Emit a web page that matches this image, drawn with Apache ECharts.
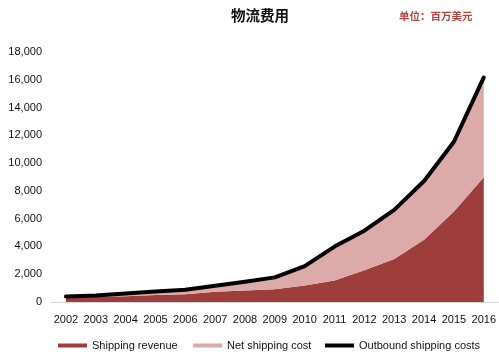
<!DOCTYPE html>
<html><head><meta charset="utf-8">
<script src="https://cdn.jsdelivr.net/npm/echarts@6/dist/echarts.min.js"></script>
<style>html,body{margin:0;padding:0;background:#fff}#c{width:499px;height:363px}</style>
</head><body><div id="c"></div>
<script>
var years = ['2002','2003','2004','2005','2006','2007','2008','2009','2010','2011','2012','2013','2014','2015','2016'];
var shippingRevenue = [364, 372, 420, 511, 567, 740, 835, 924, 1193, 1552, 2280, 3097, 4486, 6515, 8976];
var outboundShipping = [404, 472, 617, 750, 884, 1174, 1465, 1773, 2579, 3989, 5134, 6635, 8709, 11539, 16167];
var netShippingCost = outboundShipping.map(function(v, i){ return v - shippingRevenue[i]; });
var yTicks = [0, 2000, 4000, 6000, 8000, 10000, 12000, 14000, 16000, 18000];

var chart = echarts.init(document.getElementById('c'), null, {renderer:'canvas'});
var font = 'Liberation Sans, Arial, sans-serif';
function leg(name, left, color){
  return {bottom: 7, left: left, itemWidth: 29, itemHeight: 4, itemGap: 0,
    textStyle: {fontSize: 11, color: '#111', fontFamily: font},
    data: [{name: name, icon: 'rect', itemStyle: {color: color}}]};
}
chart.setOption({
  animation: false,
  title: [
    {text: '物流费用', left: 226, top: 3,
     textStyle: {fontSize: 14.5, fontWeight: 'bold', color: '#111', fontFamily: 'Noto Sans CJK SC'}},
    {text: '单位：百万美元', left: 394, top: 6,
     textStyle: {fontSize: 10.5, fontWeight: 'bold', color: '#b8433f', fontFamily: 'Noto Sans CJK SC'}}
  ],
  grid: {left: 51, right: 0, top: 52, bottom: 61},
  legend: [
    leg('Shipping revenue', 53, '#9d3d3c'),
    leg('Net shipping cost', 188, '#dcaaa9'),
    leg('Outbound shipping costs', 320, '#000')
  ],
  xAxis: {
    type: 'category', data: years, boundaryGap: true,
    axisLine: {lineStyle: {color: '#d8d8d8', width: 1}},
    axisTick: {show: false},
    axisLabel: {fontSize: 11, color: '#111', fontFamily: font, margin: 12, interval: 0}
  },
  yAxis: {
    type: 'value', min: 0, max: 18000, interval: 2000,
    splitLine: {show: false}, axisLine: {show: false}, axisTick: {show: false},
    axisLabel: {fontSize: 11, color: '#111', fontFamily: font, margin: 9,
      formatter: function(v){ return v.toLocaleString('en-US'); }}
  },
  series: [
    {name: 'Shipping revenue', type: 'line', stack: 'a', data: shippingRevenue,
     symbol: 'none', lineStyle: {width: 0}, itemStyle: {color: '#9d3d3c'},
     areaStyle: {color: '#9d3d3c', opacity: 1}},
    {name: 'Net shipping cost', type: 'line', stack: 'a', data: netShippingCost,
     symbol: 'none', lineStyle: {width: 0}, itemStyle: {color: '#dcaaa9'},
     areaStyle: {color: '#dcaaa9', opacity: 1}},
    {name: 'Outbound shipping costs', type: 'line', data: outboundShipping,
     symbol: 'none', itemStyle: {color: '#000'},
     lineStyle: {width: 4, color: '#000', cap: 'round', join: 'round'}}
  ]
});
</script></body></html>
